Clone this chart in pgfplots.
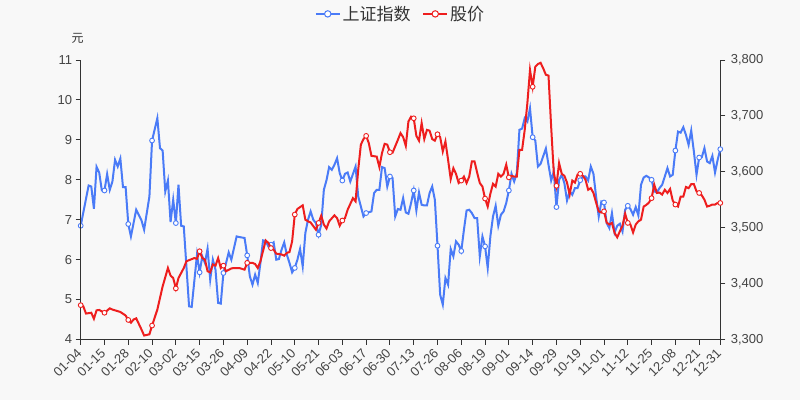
\documentclass[border=0pt]{standalone}
\usepackage{fontspec}
\setmainfont{Liberation Sans}
\newfontfamily\cjk{Noto Sans CJK SC}
\usepackage{pgfplots}
\usepackage{pgfplotstable}
\pgfplotsset{compat=1.18}

\definecolor{bg}{HTML}{F8F8F8}
\definecolor{axcol}{HTML}{333333}
\definecolor{labcol}{HTML}{444444}
\definecolor{cblue}{HTML}{4A7BF7}
\definecolor{cred}{HTML}{EE1E1E}

% 上证指数 (right axis), index = trading day
\pgfplotstableread{
idx val
0 3503.5
3 3575.5
4 3573.7
5 3533.9
6 3608.9
7 3598.7
8 3566.6
9 3566.6
10 3595.9
11 3567.8
12 3582.6
13 3621.4
14 3609.4
15 3623.7
16 3572.6
17 3572.6
18 3506.6
19 3484.4
21 3532.1
23 3513
24 3496.4
26 3555.9
27 3655.9
29 3695.9
30 3642.3
31 3638
32 3564.8
33 3584.4
34 3510.1
35 3550
36 3508.3
37 3576.8
38 3503.5
39 3502.3
41 3359.4
42 3358.3
44 3451.7
45 3420.1
46 3448.7
47 3436.9
48 3462.4
49 3407.1
50 3442.8
51 3424.9
52 3365.5
53 3364.2
54 3419
55 3436.9
56 3455.8
57 3442.8
59 3484.4
60 3483.3
62 3481.6
63 3450.5
64 3412.9
65 3398.1
66 3416
67 3401.2
68 3436.9
69 3477.3
70 3476.2
71 3466.6
72 3469.6
73 3473.7
74 3442.8
75 3444
76 3460.7
77 3473.7
78 3451.7
79 3436.9
80 3420.1
81 3428
82 3442.8
83 3461.9
84 3430.8
85 3490.5
86 3514.2
87 3529.1
88 3514.2
89 3508.3
90 3487.5
91 3505
92 3567.8
93 3585
94 3608.4
95 3603.5
96 3612.5
97 3624.4
98 3597.7
99 3584.4
100 3596.4
101 3598.7
102 3582.6
104 3609.4
105 3555.9
107 3520.1
108 3526.2
110 3529.1
111 3561.9
112 3567.8
113 3567.8
114 3608.4
115 3606.6
116 3573.7
117 3591.6
118 3588.7
119 3520.1
120 3533.4
121 3532.1
122 3553
123 3527.3
124 3525
125 3544.1
126 3566.6
127 3530.8
128 3563
129 3541
130 3539.8
131 3539.8
132 3561.9
133 3573.7
134 3550
135 3467.8
136 3380.3
137 3362.4
138 3410.1
139 3398.1
140 3461.9
141 3448.7
142 3475.5
143 3469.6
144 3458.3
145 3496.4
146 3530.8
147 3532.1
148 3526.2
149 3517.3
150 3517.3
151 3448.7
152 3484.4
153 3466.6
154 3428
155 3484.4
156 3520.1
157 3539.2
158 3503.5
159 3523.2
160 3529.1
161 3544.1
162 3566.6
163 3596.4
164 3582.6
165 3597.7
166 3675
167 3677.3
168 3695.9
169 3689.8
170 3713.7
171 3661.9
172 3655.9
173 3609.4
174 3614.3
176 3641.6
177 3612.5
178 3584.4
179 3600.5
180 3536.9
181 3585.7
182 3594.6
183 3579.8
184 3548.7
185 3564.8
186 3558.9
187 3570.9
188 3570.9
189 3585
190 3591.6
191 3591.6
192 3584.4
193 3609.4
194 3596.4
195 3555.9
196 3520.1
197 3546.9
198 3545.1
199 3508.3
200 3499.4
201 3526
202 3491.4
203 3503.5
204 3507.1
205 3493.3
206 3532.1
207 3539.2
208 3533.3
209 3523.2
210 3536.9
211 3521.9
212 3576.8
213 3589.8
214 3592.8
215 3590
216 3585.7
217 3565
218 3563
219 3570.9
220 3576.8
221 3591.6
222 3606.6
223 3591.6
224 3594.6
225 3638
226 3671.9
227 3670
228 3679.8
229 3666
230 3648.2
231 3673.7
232 3636.2
233 3594.6
234 3625.5
235 3626.2
236 3642.3
237 3618.4
238 3615.5
239 3628.5
240 3598.7
241 3621.4
242 3640.5
}\szindex

% 股价 (left axis, 元)
\pgfplotstableread{
idx val
0 4.86
1 4.83
2 4.65
4 4.67
5 4.52
6 4.73
7 4.74
9 4.67
11 4.78
12 4.75
13 4.73
15 4.69
17 4.60
18 4.49
19 4.42
20 4.50
21 4.53
23 4.25
24 4.10
26 4.13
27 4.35
29 4.75
31 5.33
33 5.79
34 5.60
35 5.54
36 5.28
37 5.54
39 5.79
40 5.96
43 6.04
44 6.02
45 6.21
46 6.04
47 6.00
48 5.71
49 5.68
50 5.88
51 5.85
52 6.04
53 5.79
54 5.85
55 5.71
57 5.78
58 5.79
60 5.79
62 5.75
63 5.92
65 5.92
66 5.89
67 5.79
68 5.96
70 6.48
71 6.42
72 6.29
73 6.25
74 6.15
76 6.13
77 6.10
78 6.17
79 6.19
80 6.46
81 7.13
82 7.27
84 7.36
85 7.00
86 6.96
87 6.93
89 6.75
90 6.92
91 7.10
92 6.88
93 6.78
94 6.96
96 7.11
97 7.04
98 6.85
99 6.98
100 7.04
101 7.25
103 7.54
104 7.46
105 8.25
106 8.88
107 9.02
108 9.10
109 8.92
110 8.60
112 8.58
113 8.32
114 8.67
115 8.90
116 8.88
117 8.69
118 8.68
120 9.00
121 9.17
122 9.07
123 8.85
124 9.46
125 9.58
126 9.54
127 9.10
128 8.98
129 9.42
130 9.02
131 9.25
132 9.23
133 9.02
134 8.98
135 9.14
136 9.07
137 8.71
138 8.96
139 8.50
140 8.02
141 8.29
142 8.15
143 7.92
144 7.98
145 8.08
146 7.92
147 8.08
148 8.46
149 8.46
150 8.18
151 7.92
152 7.83
153 7.53
154 7.33
155 7.65
156 7.90
157 7.83
158 8.15
159 8.08
160 8.15
161 8.38
162 8.06
163 8.10
164 8.08
165 8.08
166 8.75
167 8.75
168 9.25
169 9.92
170 10.75
171 10.33
172 10.83
173 10.90
174 10.93
175 10.79
176 10.63
177 10.61
178 9.33
179 8.17
180 7.85
181 8.42
182 8.15
183 8.10
184 7.93
185 7.63
186 7.98
187 7.93
188 8.13
189 8.15
190 8.10
191 8.00
192 7.75
193 7.79
194 7.67
195 7.43
196 7.21
197 7.18
198 7.21
199 6.93
200 6.88
201 6.92
202 6.67
203 6.56
204 6.71
205 6.85
206 7.15
207 6.92
208 6.88
209 6.68
210 6.88
211 6.96
212 7.00
213 7.33
214 7.37
215 7.43
216 7.54
217 7.88
218 7.67
219 7.68
220 7.63
221 7.75
222 7.67
223 7.77
224 7.48
225 7.38
226 7.33
227 7.58
228 7.58
229 7.82
230 7.79
231 7.89
232 7.89
233 7.71
234 7.67
235 7.61
236 7.50
237 7.33
238 7.35
239 7.38
240 7.38
241 7.42
242 7.42
}\price

\pgfplotsset{
  common/.style={
    at={(80.7pt,60.5pt)}, anchor=south west,
    scale only axis, width=639.6pt, height=279.5pt,
    xmin=0, xmax=242,
    enlargelimits=false,
    axis line style={draw=axcol, line width=0.9pt},
    tick style={draw=axcol, line width=0.9pt},
    major tick length=5pt,
    tick align=outside,
    /pgf/number format/assume math mode=true,
    ticklabel style={font=\fontsize{13}{13}\selectfont, text=labcol},
    clip=false,
  },
  dot/.style={only marks, mark=*, mark size=2.4pt,
    mark options={fill=white, draw=#1, line width=0.9pt},
    x filter/.expression={or(mod(x,9)==0, x==242) ? x : nan}},
}

\begin{document}
\begin{tikzpicture}
\fill[bg] (0,0) rectangle (800pt,400pt);
\useasboundingbox (0,0) rectangle (800pt,400pt);

% right axis: 上证指数
\begin{axis}[common,
  axis x line=none,
  axis y line*=right,
  ymin=3300, ymax=3800,
  ytick={3300,3400,3500,3600,3700,3800},
  scaled y ticks=false,
  /pgf/number format/fixed,
  /pgf/number format/1000 sep={,},
  yticklabel style={xshift=2pt},
]
\addplot[cblue, line width=2pt, forget plot] table[x=idx, y=val] {\szindex};
\addplot[dot=cblue, forget plot] table[x=idx, y=val] {\szindex};
\end{axis}

% left axis: 股价
\begin{axis}[common,
  axis x line*=bottom,
  axis y line*=left,
  ymin=4, ymax=11,
  ytick={4,5,6,7,8,9,10,11},
  xtick={0,9,18,27,36,45,54,63,72,81,90,99,108,117,126,135,144,153,162,171,180,189,198,207,216,225,234,242},
  xticklabels={01-04,01-15,01-28,02-10,03-02,03-15,03-26,04-09,04-22,05-10,05-21,06-03,06-17,06-30,07-13,07-26,08-06,08-19,09-01,09-14,09-29,10-19,11-01,11-12,11-25,12-08,12-21,12-31},
  xticklabel style={yshift=-4pt, xshift=1pt, rotate=45, anchor=east},
  ylabel={\cjk 元},
  ylabel style={rotate=-90, at={(axis description cs:0,1)}, anchor=center,
    yshift=22pt, xshift=-3pt, font=\fontsize{12}{12}\selectfont, text=axcol},
  legend columns=-1,
  legend style={at={(0.5,1.165)}, anchor=center, draw=none, fill=none,
    font=\cjk\fontsize{17}{17}\selectfont, text=axcol,
    /tikz/every even column/.append style={column sep=10pt}},
  legend image code/.code={%
    \draw[mark repeat=2, mark phase=2, #1] plot coordinates {(0pt,0pt) (12pt,0pt) (24pt,0pt)};},
]
\addlegendimage{cblue, line width=1.5pt, mark=*, mark size=3.2pt, mark options={fill=white, draw=cblue, line width=1pt}}
\addlegendentry{上证指数}
\addlegendimage{cred, line width=1.5pt, mark=*, mark size=3.2pt, mark options={fill=white, draw=cred, line width=1pt}}
\addlegendentry{股价}
\addplot[cred, line width=2pt, forget plot] table[x=idx, y=val] {\price};
\addplot[dot=cred, forget plot] table[x=idx, y=val] {\price};
\end{axis}
\end{tikzpicture}
\end{document}
